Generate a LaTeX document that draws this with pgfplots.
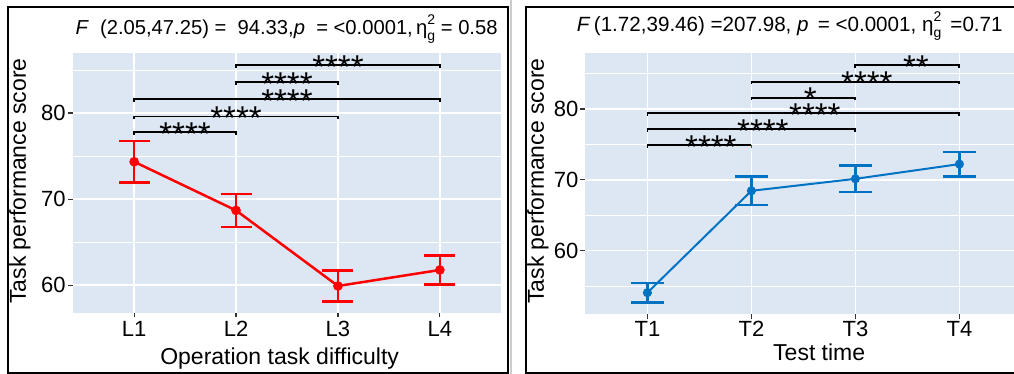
\documentclass[border=0pt]{standalone}
\usepackage{pgfplots}
\pgfplotsset{compat=1.18}
\usepackage{fontspec}
\setmainfont{Liberation Sans}
\definecolor{panelbg}{RGB}{221,231,243}
\definecolor{serblue}{RGB}{0,114,196}
\definecolor{tickgray}{RGB}{51,51,51}
\pgfplotsset{ggstyle/.style={
  scale only axis,
  axis background/.style={fill=panelbg},
  axis lines*=left,
  axis line style={draw=none},
  grid=both,
  major grid style={white, line width=0.8pt},
  minor grid style={white, line width=0.4pt},
  xtick={1,2,3,4},
  ytick={60,70,80},
  minor ytick={55,65,75,85},
  tick align=outside,
  major tick length=2.3pt,
  minor tick length=0pt,
  tick style={tickgray, line width=0.6pt},
  every tick label/.append style={font=\fontsize{11}{13}\selectfont, text=black},
  /pgf/number format/assume math mode=true,
  xticklabel style={anchor=base, inner sep=0pt},
  yticklabel style={anchor=east, inner sep=0pt},
  clip=false,
}}
\newcommand{\stars}[1]{{\fontsize{16.5}{16.5}\selectfont #1}}
\newcommand{\etag}{η\rlap{\raisebox{0.95ex}{\fontsize{7}{7}\selectfont 2}}\raisebox{-0.55ex}{\fontsize{7}{7}\selectfont g}}
\begin{document}
\begin{tikzpicture}
\useasboundingbox (0,0) rectangle (507pt,187pt);
% frames
\draw[gray!40, line width=1pt] (255.6pt,0) -- (255.6pt,187pt);
\draw[black, line width=1pt] (4.15pt,0.65pt) rectangle (254pt,183.65pt);
\draw[black, line width=1pt] (263pt,0.35pt) rectangle (520pt,183.65pt);

% ---------- left panel ----------
\begin{axis}[ggstyle,
  at={(36.5pt,30.65pt)}, anchor=south west,
  width=214pt, height=129.7pt,
  xmin=0.4, xmax=4.6, ymin=56.82, ymax=86.93,
  xticklabels={L1,L2,L3,L4},
  xticklabel style={yshift=-9.7pt},
  yticklabel style={xshift=-1.2pt},
]
\addplot[red, line width=1.25pt, mark=*, mark size=1.75pt,
  error bars/.cd, y dir=both, y explicit,
  error bar style={line width=1.25pt, red},
  error mark options={rotate=90, mark size=7.75pt, line width=1.25pt, red}]
  coordinates {
  (1,74.34) +- (0,2.40)
  (2,68.69) +- (0,1.90)
  (3,59.92) +- (0,1.82)
  (4,61.78) +- (0,1.67)
  };
\addplot[black, line width=0.9pt] coordinates {(1,77.45) (1,77.76) (2,77.76) (2,77.45)};
\addplot[black, line width=0.9pt] coordinates {(1,79.29) (1,79.60) (3,79.60) (3,79.29)};
\addplot[black, line width=0.9pt] coordinates {(1,81.32) (1,81.63) (4,81.63) (4,81.32)};
\addplot[black, line width=0.9pt] coordinates {(2,83.26) (2,83.57) (3,83.57) (3,83.26)};
\addplot[black, line width=0.9pt] coordinates {(2,85.24) (2,85.55) (4,85.55) (4,85.24)};
\node[anchor=base, inner sep=0pt, yshift=-6.6pt] at (axis cs:1.5,77.76) {\stars{****}};
\node[anchor=base, inner sep=0pt, yshift=-6.6pt] at (axis cs:2,79.60) {\stars{****}};
\node[anchor=base, inner sep=0pt, yshift=-6.6pt] at (axis cs:2.5,81.63) {\stars{****}};
\node[anchor=base, inner sep=0pt, yshift=-6.6pt] at (axis cs:2.5,83.57) {\stars{****}};
\node[anchor=base, inner sep=0pt, yshift=-6.6pt] at (axis cs:3,85.55) {\stars{****}};
\end{axis}

% ---------- right panel ----------
\begin{axis}[ggstyle,
  at={(292.5pt,29.85pt)}, anchor=south west,
  width=218.4pt, height=130.5pt,
  xmin=0.4, xmax=4.6, ymin=51.02, ymax=87.86,
  xticklabels={T1,T2,T3,T4},
  xticklabel style={yshift=-8.9pt},
  yticklabel style={xshift=-0.8pt},
]
\addplot[serblue, line width=1pt, mark=*, mark size=1.75pt,
  error bars/.cd, y dir=both, y explicit,
  error bar style={line width=1.2pt, serblue},
  error mark options={rotate=90, mark size=8.2pt, line width=1.2pt, serblue}]
  coordinates {
  (1,54.07) +- (0,1.40)
  (2,68.45) +- (0,2.02)
  (3,70.14) +- (0,1.89)
  (4,72.22) +- (0,1.75)
  };
\addplot[black, line width=0.9pt] coordinates {(1,74.54) (1,74.92) (2,74.92)};
\addplot[red, line width=0.9pt] coordinates {(2,74.92) (2,74.54)};
\addplot[black, line width=0.9pt] coordinates {(1,76.80) (1,77.18) (3,77.18) (3,76.80)};
\addplot[black, line width=0.9pt] coordinates {(1,79.01) (1,79.39) (4,79.39) (4,79.01)};
\addplot[black, line width=0.9pt] coordinates {(2,81.22) (2,81.60) (3,81.60) (3,81.22)};
\addplot[black, line width=0.9pt] coordinates {(2,83.48) (2,83.86) (4,83.86) (4,83.48)};
\addplot[black, line width=0.9pt] coordinates {(3,85.78) (3,86.16) (4,86.16) (4,85.78)};
\node[anchor=base, inner sep=0pt, yshift=-6.6pt, xshift=5.75pt] at (axis cs:1.5,74.92) {\stars{****}};
\node[anchor=base, inner sep=0pt, yshift=-6.6pt, xshift=5.75pt] at (axis cs:2,77.18) {\stars{****}};
\node[anchor=base, inner sep=0pt, yshift=-6.6pt, xshift=5.75pt] at (axis cs:2.5,79.39) {\stars{****}};
\node[anchor=base, inner sep=0pt, yshift=-6.6pt, xshift=3.5pt] at (axis cs:2.5,81.60) {\stars{*}};
\node[anchor=base, inner sep=0pt, yshift=-6.6pt, xshift=5.75pt] at (axis cs:3,83.86) {\stars{****}};
\node[anchor=base, inner sep=0pt, yshift=-6.6pt, xshift=4.25pt] at (axis cs:3.5,86.16) {\stars{**}};
\end{axis}

% titles
\node[anchor=base east, inner sep=0pt, font=\fontsize{10.1}{12}\selectfont] at (249pt,169.5pt)
  {\textit{F}\ \ (2.05,47.25) =\ \ 94.33,\textit{p}\ \ = <0.0001,\,\etag\ = 0.58};
\node[anchor=base east, inner sep=0pt, font=\fontsize{10.3}{12}\selectfont] at (501.5pt,171.2pt)
  {\textit{F}\,(1.72,39.46) =207.98,\ \textit{p}\ \,= <0.0001,\ \etag\ \,=0.71};
% axis titles
\node[rotate=90, inner sep=0pt, font=\fontsize{11.5}{13}\selectfont] at (10pt,96.5pt) {Task performance score};
\node[rotate=90, inner sep=0pt, font=\fontsize{11.5}{13}\selectfont] at (269pt,96.5pt) {Task performance score};
\node[anchor=base, inner sep=0pt, font=\fontsize{11.5}{13}\selectfont] at (139.8pt,4.85pt) {Operation task difficulty};
\node[anchor=base, inner sep=0pt, font=\fontsize{11.5}{13}\selectfont] at (409.6pt,6.65pt) {Test time};
\end{tikzpicture}
\end{document}
